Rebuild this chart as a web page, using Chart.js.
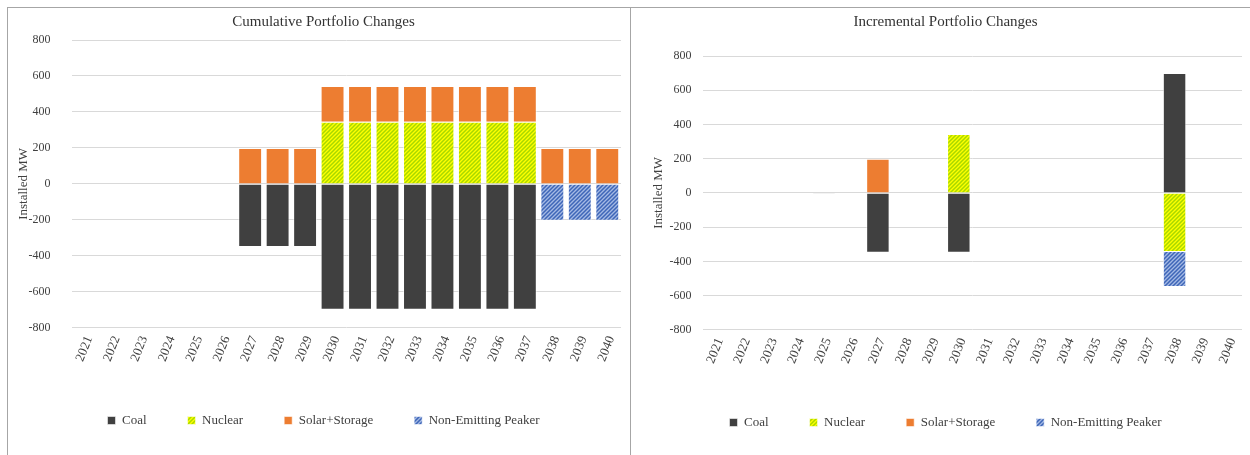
<!DOCTYPE html>
<html>
<head>
<meta charset="utf-8">
<script src="https://cdn.jsdelivr.net/npm/chart.js@4"></script>
<style>
  body { margin: 0; background: #fff; width: 1250px; height: 455px; overflow: hidden; position: relative; }
  .panel { position: absolute; top: 7px; height: 460px; border: 1px solid #a6a6a6; box-sizing: border-box; }
  #leftPanel { left: 7px; width: 624px; }
  #rightPanel { left: 630px; width: 630px; }
  .box { position: relative; width: 100%; height: 447px; }
</style>
</head>
<body>
<div class="panel" id="leftPanel"><div class="box" style="width:622px"><canvas id="cumChart"></canvas></div></div>
<div class="panel" id="rightPanel"><div class="box" style="width:620px"><canvas id="incChart"></canvas></div></div>
<script>
// Categories
const years = ['2021', '2022', '2023', '2024', '2025', '2026', '2027', '2028', '2029', '2030',
               '2031', '2032', '2033', '2034', '2035', '2036', '2037', '2038', '2039', '2040'];
const yTicks = [-800, -600, -400, -200, 0, 200, 400, 600, 800];

// Cumulative portfolio changes (MW)
const cumCoal    = [0, 0, 0, 0, 0, 0, -350, -350, -350, -700, -700, -700, -700, -700, -700, -700, -700, 0, 0, 0];
const cumNuclear = [0, 0, 0, 0, 0, 0, 0, 0, 0, 345, 345, 345, 345, 345, 345, 345, 345, 0, 0, 0];
const cumSolar   = [0, 0, 0, 0, 0, 0, 200, 200, 200, 200, 200, 200, 200, 200, 200, 200, 200, 200, 200, 200];
const cumPeaker  = [0, 0, 0, 0, 0, 0, 0, 0, 0, 0, 0, 0, 0, 0, 0, 0, 0, -205, -205, -205];

// Incremental portfolio changes (MW)
const incCoal    = [0, 0, 0, 0, -2, 0, -350, 0, 0, -350, 0, 0, 0, 0, 0, 0, 0, 700, 0, 0];
const incNuclear = [0, 0, 0, 0, 0, 0, 0, 0, 0, 345, 0, 0, 0, 0, 0, 0, 0, -345, 0, 0];
const incSolar   = [0, 0, 0, 0, 0, 0, 200, 0, 0, 0, 0, 0, 0, 0, 0, 0, 0, 0, 0, 0];
const incPeaker  = [0, 0, 0, 0, 0, 0, 0, 0, 0, 0, 0, 0, 0, 0, 0, 0, 0, -205, 0, 0];

const seriesNames = ['Coal', 'Nuclear', 'Solar+Storage', 'Non-Emitting Peaker'];

// fine diagonal hatch fill, like Excel's wide upward diagonal
function hatch(bg, fg) {
    const c = document.createElement('canvas');
    c.width = c.height = 4;
    const x = c.getContext('2d');
    x.fillStyle = bg;
    x.fillRect(0, 0, 4, 4);
    x.strokeStyle = fg;
    x.lineWidth = 1.5;
    x.beginPath();
    x.moveTo(-1, 5); x.lineTo(5, -1);
    x.moveTo(-1, 1); x.lineTo(1, -1);
    x.moveTo(3, 5); x.lineTo(5, 3);
    x.stroke();
    return x.createPattern(c, 'repeat');
}

const fills = ['#404040', hatch('#ffff00', '#a8d800'), '#ed7d31', hatch('#a4b9e4', '#3e66b8')];
const font = { family: "'Liberation Serif', 'Times New Roman', serif", size: 13 };
const tickFont = { family: font.family, size: 12 };
const textColor = '#404040';

// lay = per-chart spacing tweaks
function makeChart(canvasId, title, series, lay) {
    const ctx = document.getElementById(canvasId).getContext('2d');
    return new Chart(ctx, {
        type: 'bar',
        data: {
            labels: years,
            datasets: series.map((d, i) => ({
                label: seriesNames[i],
                data: d,
                backgroundColor: fills[i],
                borderColor: 'rgba(255,255,255,0.55)',
                borderWidth: 1,
                categoryPercentage: 1,
                barPercentage: 0.87
            }))
        },
        options: {
            responsive: true,
            maintainAspectRatio: false,
            animation: false,
            layout: { padding: { left: 18, right: 9, bottom: lay.bottom, top: 0 } },
            plugins: {
                title: {
                    display: true,
                    text: title,
                    color: '#333',
                    font: { family: font.family, size: 15, weight: 'normal' },
                    padding: { top: 5, bottom: lay.titleBottom }
                },
                legend: {
                    position: 'bottom',
                    labels: {
                        boxWidth: 8,
                        boxHeight: 8,
                        padding: 41,
                        color: textColor,
                        font: font
                    }
                },
                tooltip: { enabled: false }
            },
            scales: {
                x: {
                    stacked: true,
                    grid: { display: false },
                    border: { display: false },
                    ticks: {
                        autoSkip: false,
                        minRotation: 68,
                        maxRotation: 68,
                        labelOffset: 4,
                        padding: -2,
                        color: textColor,
                        font: font
                    },
                    // empty title, only used as spacer under the year labels
                    title: { display: true, text: '', padding: { top: lay.xGap, bottom: 0 }, font: { size: 1 } }
                },
                y: {
                    stacked: true,
                    min: yTicks[0],
                    max: yTicks[yTicks.length - 1],
                    afterBuildTicks: (axis) => { axis.ticks = yTicks.map(v => ({ value: v })); },
                    grid: { color: '#d9d9d9', drawTicks: false },
                    border: { display: false },
                    ticks: { padding: lay.tickPad, color: textColor, font: tickFont },
                    title: {
                        display: true,
                        text: 'Installed MW',
                        color: textColor,
                        font: font,
                        padding: { top: lay.yTitleTop, bottom: lay.yTitleBottom }
                    }
                }
            }
        }
    });
}

makeChart('cumChart', 'Cumulative Portfolio Changes', [cumCoal, cumNuclear, cumSolar, cumPeaker],
          { bottom: 18, titleBottom: 9, tickPad: 21, yTitleTop: -10, yTitleBottom: -24, xGap: 10 });
makeChart('incChart', 'Incremental Portfolio Changes', [incCoal, incNuclear, incSolar, incPeaker],
          { bottom: 16, titleBottom: 25, tickPad: 11, yTitleTop: 2, yTitleBottom: -8, xGap: 10 });
</script>
</body>
</html>
